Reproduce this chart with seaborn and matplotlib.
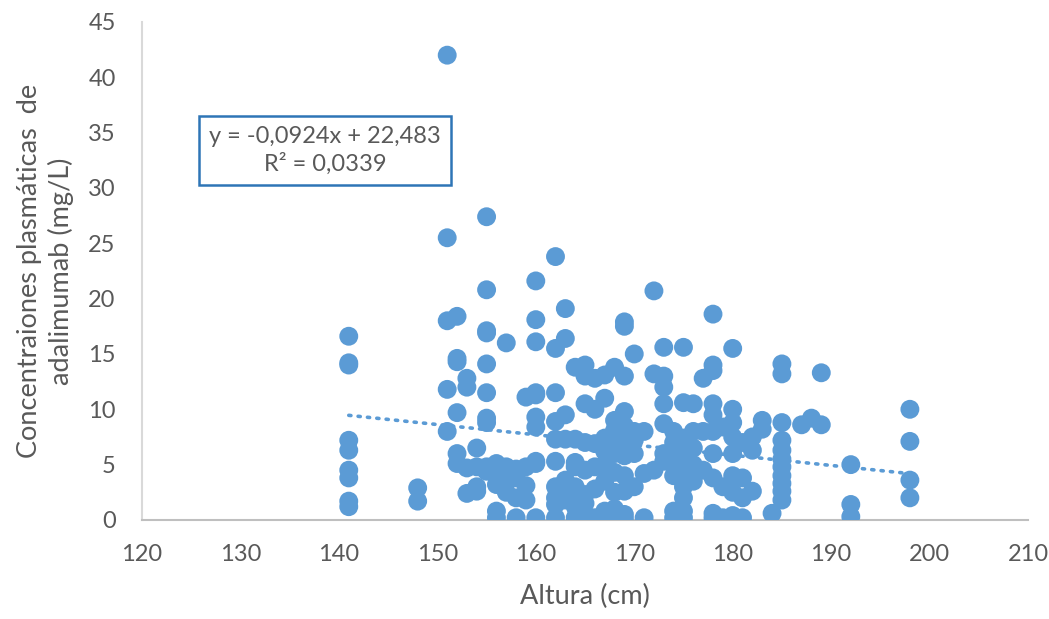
import numpy as np
import pandas as pd
import matplotlib
matplotlib.use("Agg")
import matplotlib.pyplot as plt
import seaborn as sns

# height (cm) -> plasma adalimumab concentrations (mg/L)
columns = {
    141: [16.6, 14.2, 14.0, 7.2, 6.3, 4.5, 3.8, 1.7, 1.2],
    148: [2.9, 1.7],
    151: [42.0, 25.5, 18.0, 11.8, 8.0],
    152: [18.4, 14.6, 14.3, 9.7, 6.0, 5.1],
    153: [12.8, 12.0, 4.7, 2.4],
    154: [6.5, 3.0, 2.6, 4.8],
    155: [27.4, 20.8, 17.1, 16.9, 14.1, 11.5, 9.2, 8.8, 4.8, 4.4],
    156: [5.1, 3.2, 0.8, 0.2, 4.0],
    157: [16.0, 4.8, 3.5, 2.5, 4.5],
    158: [4.6, 3.8, 2.0, 0.2],
    159: [11.1, 4.8, 1.8, 3.1],
    160: [21.6, 18.1, 16.1, 11.5, 11.3, 9.3, 8.4, 5.3, 5.1, 0.2],
    162: [23.8, 15.5, 11.5, 8.9, 7.3, 5.3, 3.0, 2.0, 1.4, 0.2],
    163: [19.1, 16.4, 9.5, 7.3, 3.6, 2.5, 1.8],
    164: [13.8, 7.3, 4.8, 5.2, 3.0, 1.2, 0.2, 2.2],
    165: [14.0, 13.0, 10.5, 7.0, 4.5, 2.3, 0.4, 1.5],
    166: [12.8, 10.0, 6.9, 4.8, 0.2, 2.8],
    167: [13.1, 11.0, 7.4, 5.0, 3.5, 0.8, 6.2],
    168: [13.8, 9.0, 8.1, 6.0, 4.3, 2.5, 1.0, 0.2, 7.2],
    169: [17.9, 17.5, 13.0, 9.8, 8.5, 7.0, 5.8, 4.0, 0.5, 0.1, 2.6],
    170: [15.0, 8.0, 6.0, 3.0, 7.2],
    171: [8.0, 4.2, 0.2],
    172: [20.7, 13.2, 4.5],
    173: [15.6, 12.0, 13.0, 10.5, 8.7, 6.0, 5.3],
    174: [8.0, 5.5, 4.0, 0.8, 0.2, 7.0],
    175: [15.6, 10.6, 7.4, 6.0, 3.0, 2.0, 0.8, 0.2, 4.6],
    176: [10.5, 8.0, 5.0, 4.5, 3.5, 6.5],
    177: [12.8, 8.0, 4.5],
    178: [18.6, 14.0, 13.5, 10.5, 9.5, 8.0, 6.0, 3.8, 0.6, 0.2],
    179: [8.4, 3.0, 0.2],
    180: [15.5, 10.0, 8.8, 7.5, 6.0, 4.0, 2.5, 0.4, 0.2],
    181: [7.0, 3.8, 2.0, 0.2],
    182: [6.3, 7.5, 2.6],
    183: [8.2, 9.0],
    184: [0.6],
    185: [14.1, 13.2, 8.8, 7.2, 6.3, 5.5, 4.8, 4.0, 3.3, 2.6, 1.8],
    187: [8.6],
    188: [9.2],
    189: [8.6, 13.3],
    192: [5.0, 1.4, 0.3],
    198: [10.0, 7.1, 3.6, 2.0],
}
altura = [h for h, vals in columns.items() for _ in vals]
concentracion = [v for vals in columns.values() for v in vals]

# Excel linear trendline as printed on the chart
slope, intercept, r2 = -0.0924, 22.483, 0.0339

df = pd.DataFrame({"Altura": altura, "Conc": concentracion})
trend_x = np.array([min(altura), max(altura)])
trend = pd.DataFrame({"Altura": trend_x, "Conc": slope * trend_x + intercept})

sns.set_style("white")
plt.rcParams["font.family"] = ["Lato", "DejaVu Sans"]

blue = "#5B9BD5"
grey = "#595959"

fig = plt.figure(figsize=(10.49, 6.19), dpi=100)
ax = fig.add_axes([0.1354, 0.160, 0.8446, 0.8045])

sns.scatterplot(data=df, x="Altura", y="Conc", ax=ax, s=185, color=blue,
                edgecolor="none", linewidth=0, zorder=3)
sns.lineplot(data=trend, x="Altura", y="Conc", ax=ax, color=blue, linewidth=2.6,
             linestyle=(0, (0.6, 2.0)), dash_capstyle="round", zorder=2)

ax.set_xlim(120, 210)
ax.set_ylim(0, 45)
ax.set_xticks(np.arange(120, 211, 10))
ax.set_yticks(np.arange(0, 46, 5))
ax.tick_params(axis="both", labelsize=17, colors=grey, length=0)
ax.tick_params(axis="x", pad=17)
ax.tick_params(axis="y", pad=19)
for side in ["top", "right"]:
    ax.spines[side].set_visible(False)
ax.spines["bottom"].set_color("#BFBFBF")
ax.spines["bottom"].set_linewidth(1.5)
ax.spines["left"].set_color("#D9D9D9")
ax.spines["left"].set_linewidth(1.5)

ax.set_xlabel("Altura (cm)", fontsize=19.5, color=grey, labelpad=14)
ax.set_ylabel("Concentraiones plasmáticas  de\nadalimumab (mg/L)", fontsize=19.5,
              color=grey, labelpad=10, linespacing=1.3)

ax.text(138.6, 33.4, f"y = {slope:.4f}x + {intercept:.3f}\nR² = {r2:.4f}".replace(".", ","),
        ha="center", va="center", fontsize=17, color=grey, linespacing=1.3,
        bbox=dict(boxstyle="square,pad=0.42", facecolor="white", edgecolor="#2E75B6", linewidth=1.8),
        zorder=5)

fig.savefig("out.png", dpi=100)
